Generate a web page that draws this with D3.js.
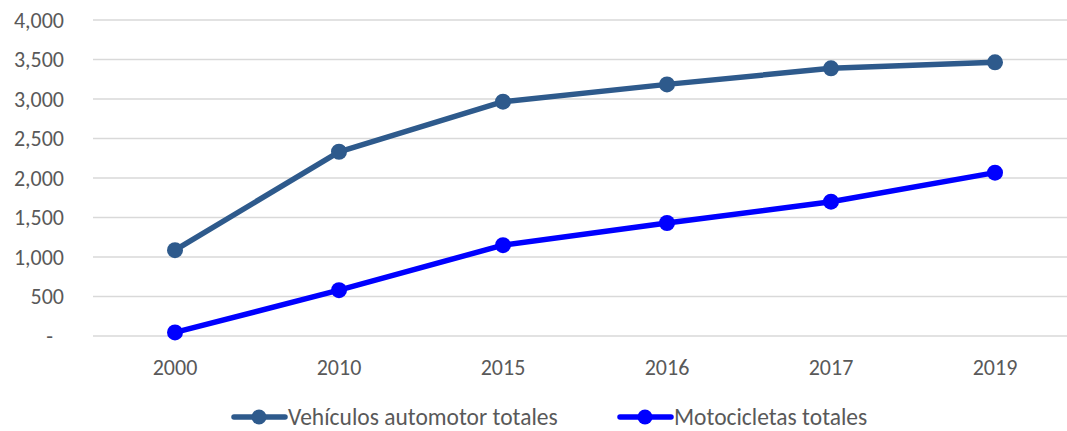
<!DOCTYPE html>
<html>
<head>
<meta charset="utf-8">
<script src="https://cdn.jsdelivr.net/npm/d3@7"></script>
<style>
  html, body { margin: 0; padding: 0; background: #fff; }
  svg { display: block; }
  text { font-family: Carlito, Lato, "Liberation Sans", sans-serif; fill: #595959; }
</style>
</head>
<body>
<svg id="chart" width="1067" height="431"></svg>
<script>
// Years on the category axis
const years = ["2000", "2010", "2015", "2016", "2017", "2019"];
// Fleet totals (thousands)
const vehiculos = [1086, 2332, 2966, 3185, 3388, 3464];
const motos = [45, 580, 1150, 1430, 1700, 2068];
// Y-axis ticks
const yTicks = [0, 500, 1000, 1500, 2000, 2500, 3000, 3500, 4000];

const seriesNames = ["Vehículos automotor totales", "Motocicletas totales"];
const seriesColors = ["#2E5A8C", "#0000FF"];

const svg = d3.select("#chart");
const margin = { left: 93, right: -10, top: 20, bottom: 95 };
const W = 1067, H = 431;
const fontSize = 22;

const x = d3.scaleBand().domain(years).range([margin.left, W - margin.right]);
const y = d3.scaleLinear().domain([0, 4000]).range([H - margin.bottom, margin.top]);

// Gridlines
svg.append("g")
  .selectAll("line")
  .data(yTicks)
  .join("line")
  .attr("x1", margin.left).attr("x2", W - margin.right)
  .attr("y1", d => y(d)).attr("y2", d => y(d))
  .attr("stroke", "#d9d9d9").attr("stroke-width", 1.3);

// Y axis labels
const fmt = d3.format(",");
const yAxis = svg.append("g")
  .attr("transform", `translate(${margin.left - 29},0)`)
  .call(d3.axisLeft(y).tickValues(yTicks).tickSize(0).tickPadding(0)
    .tickFormat(d => d === 0 ? "-" : fmt(d)));
yAxis.select(".domain").remove();
yAxis.selectAll("text")
  .attr("font-size", fontSize)
  .attr("fill", "#595959")
  .attr("font-family", "Carlito, Lato, sans-serif")
  .attr("dx", d => d === 0 ? -11 : 0);

// X axis labels
const xAxis = svg.append("g")
  .attr("transform", `translate(0,${H - margin.bottom + 23})`)
  .call(d3.axisBottom(x).tickSize(0).tickPadding(0));
xAxis.select(".domain").remove();
xAxis.selectAll("text")
  .attr("font-size", fontSize)
  .attr("fill", "#595959")
  .attr("font-family", "Carlito, Lato, sans-serif")
  .attr("dy", "0.71em");

const cx = d => x(d) + x.bandwidth() / 2;
const line = d3.line().x(d => cx(d.year)).y(d => y(d.value));

[vehiculos, motos].forEach((vals, i) => {
  const pts = years.map((yr, j) => ({ year: yr, value: vals[j] }));
  const g = svg.append("g");
  g.append("path")
    .datum(pts)
    .attr("d", line)
    .attr("fill", "none")
    .attr("stroke", seriesColors[i])
    .attr("stroke-width", 5.5)
    .attr("stroke-linejoin", "round")
    .attr("stroke-linecap", "round");
  g.selectAll("circle")
    .data(pts)
    .join("circle")
    .attr("cx", d => cx(d.year))
    .attr("cy", d => y(d.value))
    .attr("r", 8)
    .attr("fill", seriesColors[i]);
});

// Legend
const legendX = [234, 620];
const legendY = 417;
seriesNames.forEach((name, i) => {
  const g = svg.append("g").attr("transform", `translate(${legendX[i]},${legendY})`);
  g.append("line")
    .attr("x1", 0).attr("x2", 51)
    .attr("y1", 0).attr("y2", 0)
    .attr("stroke", seriesColors[i]).attr("stroke-width", 5.5)
    .attr("stroke-linecap", "round");
  g.append("circle").attr("cx", 25).attr("cy", 0).attr("r", 7.5).attr("fill", seriesColors[i]);
  g.append("text")
    .attr("x", 54).attr("y", 0).attr("dy", "0.33em")
    .attr("font-size", 23.5)
    .text(name);
});
</script>
</body>
</html>
